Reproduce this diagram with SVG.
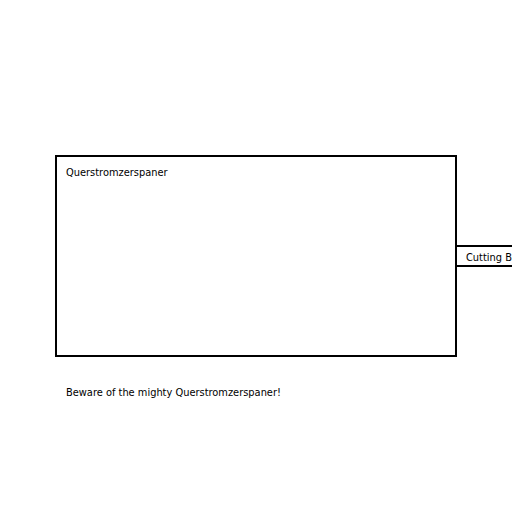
<svg xmlns="http://www.w3.org/2000/svg" width="512" height="512" viewBox="0 0 512 512">
<style>
.box{fill:none;stroke:#000;stroke-width:2}
.t{font-family:"DejaVu Sans",sans-serif;font-size:9.85px;fill:#000}
</style>
<rect width="512" height="512" fill="#fff"/>
<g id="querstromzerspaner">
<rect class="box" x="56" y="156" width="400" height="200"/>
<text class="t" x="66" y="176">Querstromzerspaner</text>
</g>
<g id="cutting-port">
<rect class="box" x="456" y="246" width="100" height="20"/>
<text class="t" x="466" y="261">Cutting B</text>
</g>
<g id="connectors"/>
<g id="note">
<text class="t" x="66" y="396">Beware of the mighty Querstromzerspaner!</text>
</g>
</svg>
